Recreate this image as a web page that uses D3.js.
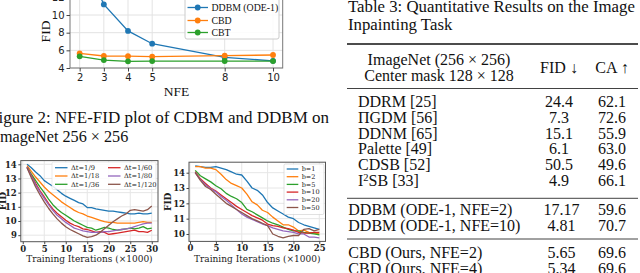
<!DOCTYPE html>
<html><head><meta charset="utf-8">
<script src="https://cdn.jsdelivr.net/npm/d3@7"></script>
<style>body{margin:0;background:#fff;overflow:hidden}svg{display:block}</style>
</head><body><svg id="c" width="640" height="273"></svg>
<script>
// ---------- data: NFE-FID plot ----------
const nfe = [2, 3, 4, 5, 8, 10];
const fidDDBM = [17.17, 11.2, 8.2, 6.75, 5.2, 4.81];
const fidCBD = [5.65, 5.36, 5.34, 5.28, 5.4, 5.47];
const fidCBT = [5.32, 4.9, 4.76, 4.78, 4.79, 4.78];
const nfeNames = ["DDBM (ODE-1)", "CBD", "CBT"];
const nfeYTicks = [4, 6, 8, 10, 12];

// ---------- data: Δt panel ----------
const iterA = [1,2,3,4,5,6,7,8,9,10,11,12,13,14,15,16,17,18,19,20,21,22,23,24,25,26,27,28,29,30];
const dt9   = [14.0,13.75,13.45,13.2,12.85,12.65,12.45,12.2,11.95,11.75,11.6,11.45,11.3,11.2,10.95,10.95,10.85,10.8,10.75,10.7,10.7,10.65,10.6,10.55,10.5,10.5,10.55,10.5,10.5,10.55];
const dt18  = [13.9,13.5,13.1,12.75,12.4,12.1,11.85,11.6,11.35,11.15,10.95,10.75,10.6,10.5,10.35,10.25,10.15,10.05,9.95,9.9,9.9,9.85,9.85,9.85,9.85,9.85,9.9,9.95,9.9,9.9];
const dt36  = [13.8,13.3,12.85,12.4,12.0,11.55,11.15,10.85,10.6,10.4,10.2,10.0,9.85,9.7,9.55,9.5,9.35,9.45,9.55,9.5,9.4,9.35,9.4,9.45,9.5,9.45,9.5,9.6,9.45,9.5];
const dt60  = [13.8,13.2,12.65,12.15,11.7,11.25,10.85,10.55,10.3,10.05,9.85,9.7,9.6,9.45,9.4,9.3,9.2,9.25,9.2,9.05,9.1,9.15,9.2,9.25,9.3,9.35,9.25,9.25,9.2,9.35];
const dt80  = [13.8,13.15,12.55,12.05,11.6,11.15,10.75,10.4,10.15,9.9,9.7,9.5,9.4,9.3,9.25,9.2,9.2,9.2,9.25,9.25,9.3,9.35,9.4,9.45,9.5,9.6,9.7,9.8,9.85,9.85];
const dt120 = [13.75,13.05,12.4,11.85,11.35,10.9,10.5,10.15,9.85,9.6,9.4,9.25,9.1,8.95,8.85,8.9,9.0,9.2,9.45,9.7,9.95,10.15,10.35,10.5,10.75,10.8,10.75,10.7,10.8,11.05];
const dtNames = ["\u0394t=1/9", "\u0394t=1/18", "\u0394t=1/36", "\u0394t=1/60", "\u0394t=1/80", "\u0394t=1/120"];
const aXTicks = [0, 5, 10, 15, 20, 25, 30];
const aYTicks = [9, 10, 11, 12, 13, 14];

// ---------- data: b panel ----------
const iterB = [1,2,3,4,5,6,7,8,9,10,11,12,13,14,15,16,17,18,19,20,21,22,23,24,25];
const b1  = [14.45,14.4,14.35,14.35,14.4,14.3,14.2,14.05,13.9,13.85,13.45,13.0,12.85,12.55,12.05,11.7,11.5,11.3,11.1,11.0,10.75,10.6,10.5,10.4,10.3];
const b2  = [14.4,14.4,14.3,14.3,14.2,13.9,13.55,13.3,13.15,13.0,12.6,12.1,11.9,11.55,11.4,11.1,10.85,10.6,10.6,10.45,10.2,10.25,10.1,10.05,10.0];
const b5  = [14.15,13.8,13.6,13.4,13.15,12.95,12.65,12.45,12.3,12.05,11.6,11.45,11.25,11.05,10.85,10.7,10.6,10.45,10.3,10.2,10.2,10.1,10.05,10.0,9.95];
const b10 = [14.05,13.6,13.3,13.0,12.8,12.55,12.3,12.05,11.8,11.6,11.4,11.2,11.05,10.9,10.65,10.55,10.5,10.4,10.35,10.25,10.1,10.05,10.05,10.1,10.1];
const b20 = [14.0,13.55,13.2,12.95,12.75,12.45,12.2,11.9,11.6,11.3,11.1,10.95,10.8,10.65,10.55,10.4,10.3,10.2,10.15,10.1,10.0,10.0,9.8,9.8,9.75];
const b50 = [14.0,13.5,13.1,12.9,12.6,12.3,12.0,11.8,11.6,11.4,11.2,11.0,10.85,10.7,10.55,10.0,9.85,9.75,9.85,9.9,9.9,10.3,10.35,10.2,10.3];
const bNames = ["b=1", "b=2", "b=5", "b=10", "b=20", "b=50"];
const bXTicks = [0, 5, 10, 15, 20, 25];
const bYTicks = [10, 11, 12, 13, 14];

// ---------- data: table ----------
const tableMethods = ["DDRM [25]", "\u03A0GDM [56]", "DDNM [65]", "Palette [49]", "CDSB [52]", "I\u00B2SB [33]",
                      "DDBM (ODE-1, NFE=2)", "DDBM (ODE-1, NFE=10)", "CBD (Ours, NFE=2)", "CBD (Ours, NFE=4)"];
const tableFID = ["24.4", "7.3", "15.1", "6.1", "50.5", "4.9", "17.17", "4.81", "5.65", "5.34"];
const tableCA  = ["62.1", "72.6", "55.9", "63.0", "49.6", "66.1", "59.6", "70.7", "69.6", "69.6"];

const colors = ["#1f77b4", "#ff7f0e", "#2ca02c", "#d62728", "#9467bd", "#8c564b"];
const svg = d3.select("#c");
svg.append("rect").attr("width", 640).attr("height", 273).attr("fill", "#fff");
const SERIF = "'Liberation Serif','Times New Roman',serif";
const DJS = "'DejaVu Serif',serif";

// ================= Chart 1: NFE-FID =================
(function () {
  const x = d3.scaleLinear().domain([1.6, 10.4]).range([70, 282.7]);
  const y = d3.scaleLinear().domain([4, 12.2]).range([68, -4.4]);
  const g = svg.append("g");
  const [x0, x1] = x.range(), [yb, yt] = y.range();
  g.append("clipPath").attr("id", "clip1").append("rect")
    .attr("x", x0).attr("y", yt).attr("width", x1 - x0).attr("height", yb - yt);
  g.selectAll(".gx").data(nfe).join("line").attr("x1", d => x(d)).attr("x2", d => x(d))
    .attr("y1", yt).attr("y2", yb).attr("stroke", "#e3e3e3").attr("stroke-width", 1);
  g.selectAll(".gy").data(nfeYTicks).join("line").attr("y1", d => y(d)).attr("y2", d => y(d))
    .attr("x1", x0).attr("x2", x1).attr("stroke", "#e3e3e3").attr("stroke-width", 1);
  const series = [fidDDBM, fidCBD, fidCBT];
  const line = d3.line().x((d, i) => x(nfe[i])).y(d => y(d));
  const pg = g.append("g").attr("clip-path", "url(#clip1)");
  series.forEach((s, k) => {
    pg.append("path").attr("d", line(s)).attr("fill", "none").attr("stroke", colors[k]).attr("stroke-width", 1.3);
    pg.selectAll(null).data(s).join("circle").attr("cx", (d, i) => x(nfe[i])).attr("cy", d => y(d))
      .attr("r", 2.9).attr("fill", colors[k]);
  });
  g.append("rect").attr("x", x0).attr("y", yt).attr("width", x1 - x0).attr("height", yb - yt)
    .attr("fill", "none").attr("stroke", "#777").attr("stroke-width", 1);
  const xa = d3.axisBottom(x).tickValues(nfe).tickSize(3.5).tickPadding(2).tickFormat(d3.format("d"));
  const gx = g.append("g").attr("transform", `translate(0,${yb})`).call(xa);
  const ya = d3.axisLeft(y).tickValues(nfeYTicks).tickSize(3.5).tickPadding(2).tickFormat(d3.format("d"));
  const gy = g.append("g").attr("transform", `translate(${x0},0)`).call(ya);
  [gx, gy].forEach(a => {
    a.select(".domain").remove();
    a.selectAll("line").attr("stroke", "#444");
    a.selectAll("text").attr("font-family", "'DejaVu Sans',sans-serif").attr("font-size", 10).attr("fill", "#222");
  });
  g.append("text").attr("x", 176.5).attr("y", 95.5).attr("text-anchor", "middle")
    .attr("font-family", SERIF).attr("font-size", 13.5).attr("fill", "#111").text("NFE");
  g.append("text").attr("transform", "translate(49.5,31.5) rotate(-90)").attr("text-anchor", "middle")
    .attr("font-family", SERIF).attr("font-size", 13.5).attr("fill", "#111").text("FID");
  const lg = g.append("g");
  lg.append("rect").attr("x", 185).attr("y", -3).attr("width", 94).attr("height", 42).attr("rx", 2)
    .attr("fill", "#fff").attr("fill-opacity", 0.85).attr("stroke", "#ccc");
  const ly = [7.5, 20.5, 32.5];
  nfeNames.forEach((n, k) => {
    lg.append("line").attr("x1", 187.5).attr("x2", 208).attr("y1", ly[k]).attr("y2", ly[k])
      .attr("stroke", colors[k]).attr("stroke-width", 1.3);
    lg.append("circle").attr("cx", 197.7).attr("cy", ly[k]).attr("r", 2.9).attr("fill", colors[k]);
    lg.append("text").attr("x", 211.5).attr("y", ly[k] + 3.4).attr("font-family", SERIF)
      .attr("font-size", 9.8).attr("fill", "#111").text(n);
  });
})();

// ================= Panel helper =================
function panel(cfg) {
  const { x, y, xs, ys, xTicks, yTicks, id } = cfg;
  const g = svg.append("g");
  const [x0, x1] = x.range(), [yb, yt] = y.range();
  g.append("clipPath").attr("id", id).append("rect")
    .attr("x", x0).attr("y", yt).attr("width", x1 - x0).attr("height", yb - yt);
  g.selectAll(null).data(xTicks).join("line").attr("x1", d => x(d)).attr("x2", d => x(d))
    .attr("y1", yt).attr("y2", yb).attr("stroke", "#e6e6e6").attr("stroke-width", 1);
  g.selectAll(null).data(yTicks).join("line").attr("y1", d => y(d)).attr("y2", d => y(d))
    .attr("x1", x0).attr("x2", x1).attr("stroke", "#e6e6e6").attr("stroke-width", 1);
  const pg = g.append("g").attr("clip-path", `url(#${id})`);
  ys.forEach((s, k) => {
    const line = d3.line().x((d, i) => x(xs[i])).y(d => y(d));
    pg.append("path").attr("d", line(s)).attr("fill", "none").attr("stroke", colors[k])
      .attr("stroke-width", 1.3).attr("stroke-linejoin", "round");
  });
  g.append("rect").attr("x", x0).attr("y", yt).attr("width", x1 - x0).attr("height", yb - yt)
    .attr("fill", "none").attr("stroke", "#555").attr("stroke-width", 1);
  const gx = g.append("g").attr("transform", `translate(0,${yb})`)
    .call(d3.axisBottom(x).tickValues(xTicks).tickSize(2.5).tickPadding(1.5).tickFormat(d3.format("d")));
  const gy = g.append("g").attr("transform", `translate(${x0},0)`)
    .call(d3.axisLeft(y).tickValues(yTicks).tickSize(2.5).tickPadding(1.5).tickFormat(d3.format("d")));
  [gx, gy].forEach(a => {
    a.select(".domain").remove();
    a.selectAll("line").attr("stroke", "#444");
    a.selectAll("text").attr("font-family", DJS).attr("font-size", 8.5).attr("font-weight", 600).attr("fill", "#222");
  });
  g.append("text").attr("x", (x0 + x1) / 2).attr("y", 261.5).attr("text-anchor", "middle")
    .attr("font-family", DJS).attr("font-size", 9).attr("fill", "#222").text("Training Iterations (\u00D71000)");
  g.append("text").attr("transform", `translate(${cfg.ylx},${(yt + yb) / 2}) rotate(-90)`).attr("text-anchor", "middle")
    .attr("font-family", DJS).attr("font-size", 9).attr("font-weight", 600).attr("fill", "#222").text("FID");
  cfg.legend(g);
  return g;
}

// ================= Chart A =================
panel({
  id: "clipA",
  x: d3.scaleLinear().domain([-0.45, 31.45]).range([20.8, 158]),
  y: d3.scaleLinear().domain([8.54, 14.26]).range([241.7, 160.6]),
  xs: iterA, ys: [dt9, dt18, dt36, dt60, dt80, dt120],
  xTicks: aXTicks, yTicks: aYTicks, ylx: 6,
  legend: g => {
    g.append("rect").attr("x", 52).attr("y", 162).attr("width", 104).attr("height", 27.5).attr("rx", 1.5)
      .attr("fill", "#fff").attr("fill-opacity", 0.85).attr("stroke", "#ddd").attr("stroke-width", 0.6);
    dtNames.forEach((n, k) => {
      const c = Math.floor(k / 3), r = k % 3;
      const lx = c ? 108 : 55, ly = 167.7 + r * 8.3;
      g.append("line").attr("x1", lx).attr("x2", lx + 12.5).attr("y1", ly).attr("y2", ly)
        .attr("stroke", colors[k]).attr("stroke-width", 1.3);
      g.append("text").attr("x", lx + 16).attr("y", ly + 2.3).attr("font-family", DJS)
        .attr("font-size", 6.7).attr("fill", "#222").text(n);
    });
  }
});

// ================= Chart B =================
panel({
  id: "clipB",
  x: d3.scaleLinear().domain([-0.2, 26.2]).range([189, 325.5]),
  y: d3.scaleLinear().domain([9.515, 14.685]).range([241.4, 162.2]),
  xs: iterB, ys: [b1, b2, b5, b10, b20, b50],
  xTicks: bXTicks, yTicks: bYTicks, ylx: 171,
  legend: g => {
    g.append("rect").attr("x", 284).attr("y", 164).attr("width", 40).attr("height", 50.5).attr("rx", 1.5)
      .attr("fill", "#fff").attr("fill-opacity", 0.85).attr("stroke", "#ccc").attr("stroke-width", 0.6);
    bNames.forEach((n, k) => {
      const ly = 169 + k * 7.7;
      g.append("line").attr("x1", 286.7).attr("x2", 298.3).attr("y1", ly).attr("y2", ly)
        .attr("stroke", colors[k]).attr("stroke-width", 1.3);
      g.append("text").attr("x", 301.7).attr("y", ly + 2.2).attr("font-family", DJS)
        .attr("font-size", 6.5).attr("fill", "#222").text(n);
    });
  }
});

// ================= Caption (left) =================
svg.append("text").attr("x", 329).attr("y", 123).attr("text-anchor", "end")
  .attr("font-family", SERIF).attr("font-size", 17).attr("fill", "#111")
  .text("Figure 2: NFE-FID plot of CDBM and DDBM on");
svg.append("text").attr("x", -5.4).attr("y", 141.5)
  .attr("font-family", SERIF).attr("font-size", 16.2).attr("fill", "#111")
  .text("ImageNet 256 \u00D7 256");

// ================= Table 3 (right) =================
const T = svg.append("g").attr("font-family", SERIF).attr("fill", "#111");
T.append("text").attr("x", 348).attr("y", 12).attr("font-size", 16.8).text("Table 3: Quantitative Results on the Image");
T.append("text").attr("x", 348).attr("y", 29.5).attr("font-size", 16.8).text("Inpainting Task");
const rule = (yy, w) => T.append("line").attr("x1", 347).attr("x2", 638).attr("y1", yy).attr("y2", yy)
  .attr("stroke", "#111").attr("stroke-width", w);
rule(44, 1.3); rule(88.5, 0.8); rule(198.3, 0.8); rule(239, 0.8);
T.append("text").attr("x", 439).attr("y", 64.5).attr("text-anchor", "middle").attr("font-size", 16).text("ImageNet (256 \u00D7 256)");
T.append("text").attr("x", 439).attr("y", 81).attr("text-anchor", "middle").attr("font-size", 16).text("Center mask 128 \u00D7 128");
T.append("text").attr("x", 559).attr("y", 73.3).attr("text-anchor", "middle").attr("font-size", 16).text("FID \u2193");
T.append("text").attr("x", 612).attr("y", 73.3).attr("text-anchor", "middle").attr("font-size", 16).text("CA \u2191");
const rowY = [101.7, 117.3, 133.3, 149, 165, 180.7, 210, 225.7, 252.7, 268.3];
tableMethods.forEach((m, i) => {
  const by = rowY[i] + 5.3;
  const lx = i < 6 ? 358 : 348.3;
  const t = T.append("text").attr("x", lx).attr("y", by).attr("font-size", 16);
  if (m.indexOf("\u00B2") >= 0) {
    t.append("tspan").text("I");
    t.append("tspan").attr("font-size", 10.5).attr("dy", -5.5).text("2");
    t.append("tspan").attr("dy", 5.5).text(m.slice(2));
  } else t.text(m);
  T.append("text").attr("x", i < 6 ? 559 : 561.5).attr("y", by).attr("text-anchor", "middle").attr("font-size", 16).text(tableFID[i]);
  T.append("text").attr("x", 612).attr("y", by).attr("text-anchor", "middle").attr("font-size", 16).text(tableCA[i]);
});
</script></body></html>
